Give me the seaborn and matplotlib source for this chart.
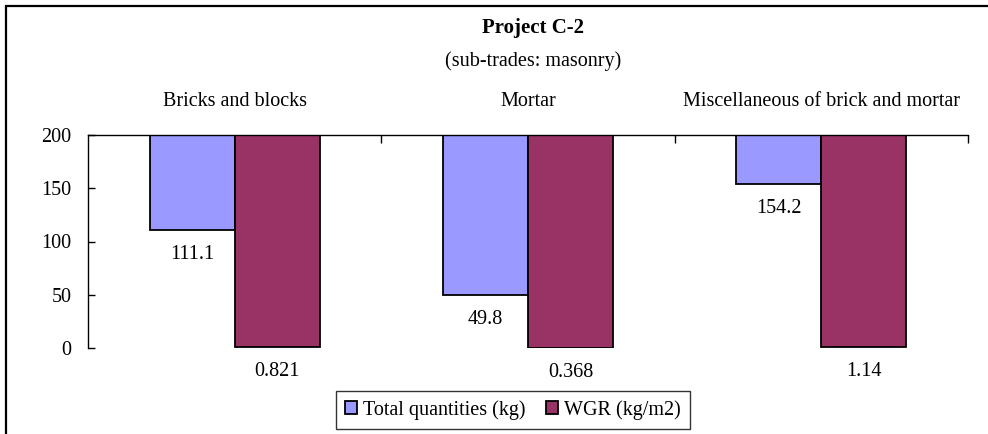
import pandas as pd
import matplotlib
matplotlib.use("Agg")
import matplotlib.pyplot as plt
import seaborn as sns
from matplotlib.patches import Rectangle, Patch

# Datos
categorias = ["Bricks and blocks", "Mortar", "Miscellaneous of brick and mortar"]
series = ["Total quantities (kg)", "WGR (kg/m2)"]
total_kg = [111.1, 49.8, 154.2]
wgr = [0.821, 0.368, 1.14]
etiquetas_total = ["111.1", "49.8", "154.2"]
etiquetas_wgr = ["0.821", "0.368", "1.14"]
eje_max = 200
colores = ["#9999FF", "#993366"]

sns.set_style("white")
plt.rcParams["font.family"] = ["Liberation Serif", "DejaVu Serif"]
plt.rcParams["text.color"] = "black"
plt.rcParams["xtick.color"] = "black"
plt.rcParams["ytick.color"] = "black"

df = pd.DataFrame({
    "categoria": categorias * 2,
    "serie": [series[0]] * 3 + [series[1]] * 3,
    "valor": total_kg + wgr,
})
# las barras cuelgan del eje superior (200)
df["altura"] = df["valor"] - eje_max

fig = plt.figure(figsize=(9.88, 4.34), dpi=100)
ax = fig.add_axes([88 / 988, 1 - 348 / 434, 880 / 988, 213 / 434])

sns.barplot(data=df, x="categoria", y="altura", hue="serie", palette=colores,
            saturation=1, bottom=eje_max, width=0.58, edgecolor="black",
            linewidth=1.3, errorbar=None, legend=False, ax=ax)

for cont, etq in zip(ax.containers, [etiquetas_total, etiquetas_wgr]):
    ax.bar_label(cont, labels=etq, padding=11, fontsize=14.5)

ax.set_ylim(0, eje_max)
ax.set_xlim(-0.5, 2.5)
ax.set_xlabel("")
ax.set_ylabel("")
ax.set_yticks([0, 50, 100, 150, 200])
ax.tick_params(axis="y", direction="in", length=5, width=1, pad=12,
               labelsize=14.5, left=True)
ax.xaxis.set_ticks_position("top")
ax.set_xticks([0.5, 1.5, 2.5], minor=True)
ax.tick_params(axis="x", which="major", length=0, pad=17, labelsize=14.5,
               labeltop=True, labelbottom=False)
ax.tick_params(axis="x", which="minor", direction="in", length=6, width=1,
               top=True, bottom=False)
for lado in ["right", "bottom"]:
    ax.spines[lado].set_visible(False)
for lado in ["left", "top"]:
    ax.spines[lado].set_color("black")
    ax.spines[lado].set_linewidth(1)

handles = [Patch(facecolor=c, edgecolor="black", linewidth=1.3) for c in colores]
leg = fig.legend(handles, series, loc="upper center",
                 bbox_to_anchor=(513 / 988, 1 - 391 / 434), ncol=2,
                 frameon=True, fancybox=False, edgecolor="black",
                 fontsize=14.5, handlelength=0.6, handleheight=0.6,
                 handletextpad=0.3, columnspacing=1.0, borderpad=0.45,
                 borderaxespad=0)
leg.get_frame().set_linewidth(1)

fig.text(533 / 988, 1 - 28 / 434, "Project C-2", ha="center", va="center",
         fontsize=15, fontweight="bold")
fig.text(533 / 988, 1 - 61 / 434, "(sub-trades: masonry)", ha="center",
         va="center", fontsize=14.5)

# marco del area del grafico
fig.patches.append(Rectangle((6 / 988, -0.1), 1.2, 1.1 - 6 / 434,
                             transform=fig.transFigure, fill=False,
                             edgecolor="black", linewidth=1.6))

fig.savefig("out.png", dpi=100)
